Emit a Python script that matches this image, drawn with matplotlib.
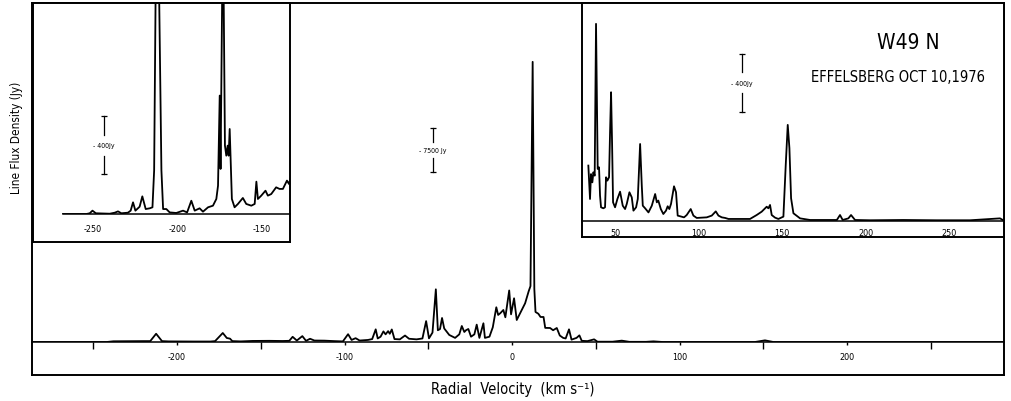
import numpy as np
import matplotlib.pyplot as plt
from matplotlib.ticker import FixedLocator

plt.rcParams['font.family'] = ['DejaVu Sans']
plt.rcParams['font.stretch'] = 'condensed'
plt.rcParams['axes.unicode_minus'] = False

# full spectrum, main panel (km/s, Jy)
vel_main = [-286, -242, -238, -220, -216, -212.5, -209, -205, -190, -180, -177.3, -172.7,
            -170.3, -168.4, -167, -162, -155, -145, -137, -133,
            -131, -128.5, -125.2, -123, -120.6, -118, -112, -106, -101, -97.9, -95.8, -93.4,
            -91, -86, -83.5, -81.4, -80.2, -78.5, -76.8, -75.5, -74, -73, -71.8, -70.2, -67,
            -63.9, -61.5, -57, -53.5, -51.3, -49.6, -47.5, -45.5, -44.3, -43, -41.8, -40.5,
            -37.5, -34, -31.5, -30, -28.5, -27.5, -26.1, -24.5, -22.5, -21.1, -19.5, -17.1,
            -16.2, -13.5, -11.5, -9.4, -8.3, -7, -5.2, -4, -1.7, -0.6, 1.2, 2.8, 4.8, 7.8,
            9.9, 11, 12.3, 13.3, 14, 15.7, 17, 18.8, 19.8, 22.7, 24.5, 26.7, 28.5, 30.5, 32,
            34, 35.5, 38.5, 40.2, 41.6, 45, 49, 51, 60, 65.5, 70, 80, 84.4, 90, 145, 151,
            156, 200, 293]
flux_main = [0, 0, 120, 150, 150, 1400, 150, 100, 80, 80, 150, 1530,
             680, 570, 150, 100, 180, 200, 170, 200,
             880, 250, 1000, 200, 550, 250, 230, 150, 100, 1330, 350, 650,
             250, 350, 500, 2150, 600, 900, 1800, 1300, 1850, 1400, 2130, 500, 450,
             1100, 550, 450, 600, 3550, 620, 1600, 8950, 2000, 2200, 4080, 2300,
             1200, 700, 1300, 2720, 1700, 2000, 2210, 900, 1300, 2950, 700, 3180,
             700, 900, 2500, 5900, 4600, 4900, 5440, 4200, 8760, 4700, 7430, 3740, 4880, 6580,
             8600, 9500, 47600, 9000, 5100, 4800, 4250, 4250, 2400, 2380, 2000, 2380, 1100, 700, 600,
             2150, 400, 700, 1130, 200, 150, 450, 50, 50, 230, 30, 30, 110, 0, 0, 280,
             0, 0, 0]

# left inset, blue-shifted wing
vel_low = [-267.7, -253.9, -251.9, -250.3, -248.3, -240.1, -237.1, -235.2, -233.2, -229.3,
           -227.7, -226.3, -224.9, -222.4, -220.8, -218.8, -216.4, -214.8, -213.8, -212.9,
           -210.9, -209.5, -208.5, -206.6, -204.6, -200.7, -196.7, -194.3, -191.8, -189.8,
           -186.9, -184.9, -181.9, -179.0, -177.0, -176.0, -175.0, -174.5, -173.5, -172.7,
           -171.9, -171.1, -170.3, -169.7, -169.1, -168.6, -167.8, -166.2, -164.2, -161.3,
           -159.3, -156.3, -154.3, -153.3, -152.4, -150.4, -147.9, -146.5, -144.5, -141.6,
           -139.6, -137.6, -135.2, -134.0, -133.2]
flux_low = [0, 0, 5, 23, 5, 2, 9, 18, 5, 9,
            23, 80, 23, 50, 121, 34, 39, 46, 300, 1550,
            1550, 300, 34, 34, 11, 7, 23, 11, 91, 23,
            39, 16, 46, 57, 103, 194, 812, 309, 1550, 1550,
            469, 400, 469, 400, 583, 400, 103, 46, 69, 110,
            69, 57, 69, 222, 103, 126, 160, 126, 137, 183,
            172, 172, 229, 206, 240]

# right inset, red-shifted wing
vel_high = [34.0, 35.0, 35.6, 36.4, 37.0, 37.8, 38.6, 39.6, 40.4, 41.0, 41.6, 43.0, 44.0,
            44.6, 45.4, 46.4, 47.0, 47.6, 48.2, 48.8, 50.0, 51.4, 53.0, 54.6, 56.0, 57.0,
            58.6, 60.0, 61.0, 62.6, 63.6, 65.0, 66.0, 66.6, 68.0, 70.0, 72.0, 74.0, 75.0,
            75.9, 77.4, 78.9, 80.5, 81.5, 82.5, 83.5, 85.3, 86.5, 87.5, 91.3, 92.9, 95.3,
            96.9, 98.9, 104.9, 107.9, 110.3, 111.9, 113.9, 115.9, 117.9, 122.9, 130.8, 134.8,
            137.8, 140.8, 141.8, 142.8, 143.8, 145.8, 147.8, 150.8, 152.2, 153.4, 154.4,
            155.4, 156.8, 160.8, 166.8, 182.8, 184.7, 186.3, 189.7, 191.3, 193.7, 202.7,
            222.6, 242.6, 262.6, 280.5, 282.5]
flux_high = [380, 151, 322, 265, 334, 311, 1352, 357, 368, 174, 94, 87, 94,
             300, 277, 300, 608, 883, 540, 128, 94, 151, 201, 105, 82, 117,
             197, 162, 71, 94, 151, 528, 242, 105, 87, 59, 105, 185, 128,
             140, 82, 48, 71, 101, 82, 117, 238, 197, 37, 25, 41, 82,
             37, 21, 25, 37, 66, 37, 25, 21, 14, 14, 14, 41,
             64, 98, 87, 110, 41, 23, 14, 30, 384, 659, 500,
             156, 53, 18, 7, 7, 41, 7, 18, 41, 7, 5,
             7, 5, 5, 18, 5]

main_ticks = [-200, -100, 0, 100, 200]
main_minor = [-250, -150, -50, 50, 150, 250]
low_ticks = [-250, -200, -150]
high_ticks = [50, 100, 150, 200, 250]

W, H = 1011, 402
fig = plt.figure(figsize=(W / 100, H / 100), dpi=100)


def box(l, r, t, b):
    # pixel edges -> figure rect
    return [l / W, 1 - b / H, (r - l) / W, (b - t) / H]


def frame(rect, z):
    a = fig.add_axes(rect, zorder=z)
    a.set_xticks([])
    a.set_yticks([])
    for s in a.spines.values():
        s.set_linewidth(1.4)
    return a


def data_axes(rect, z):
    a = fig.add_axes(rect, zorder=z)
    a.patch.set_visible(False)
    for s in ['top', 'left', 'right']:
        a.spines[s].set_visible(False)
    a.spines['bottom'].set_linewidth(1.1)
    a.set_yticks([])
    return a


def scale_bar(a, v, c, length, label):
    half = length / 2
    gap = 0.18 * length
    a.plot([v, v], [c + gap, c + half], color='k', lw=0.9)
    a.plot([v, v], [c - gap, c - half], color='k', lw=0.9)
    a.plot([v, v], [c + half, c - half], ls='none', marker='_', ms=4, mew=0.9, color='k')
    a.text(v, c, label, ha='center', va='center', fontsize=5)


# main panel
frame(box(32, 1004, 4, 376), 0)
ax = data_axes(box(32, 1004, 4, 343), 1)
ax.plot(vel_main, flux_main, color='k', lw=1.3)
ax.set_xlim(-286.6, 293.7)
ax.set_ylim(0, 57600)
ax.xaxis.set_major_locator(FixedLocator(main_ticks))
ax.xaxis.set_minor_locator(FixedLocator(main_minor))
ax.tick_params(axis='x', which='major', length=2, width=1, pad=5, labelsize=6.5)
ax.tick_params(axis='x', which='minor', length=5, width=1)
scale_bar(ax, -47.2, 32600, 7500, '- 7500 Jy')

# left inset
frame(box(33, 290, 4, 243), 3).set_facecolor('white')
axl = data_axes(box(33, 290, 4, 215), 4)
axl.plot(vel_low, flux_low, color='k', lw=1.3)
axl.set_xlim(-285.5, -133.4)
axl.set_ylim(0, 1447)
axl.spines['bottom'].set_bounds(vel_low[0], -133.4)
axl.set_xticks(low_ticks)
axl.tick_params(axis='x', length=0, pad=7, labelsize=6.5)
scale_bar(axl, -243.5, 473, 400, '- 400Jy')

# right inset
frame(box(582, 1004, 4, 238), 3).set_facecolor('white')
axr = data_axes(box(582, 1004, 4, 222), 4)
axr.plot(vel_high, flux_high, color='k', lw=1.3)
axr.set_xlim(30.2, 282.9)
axr.set_ylim(0, 1495)
axr.set_xticks(high_ticks)
axr.tick_params(axis='x', length=0, pad=5, labelsize=6.5)
scale_bar(axr, 126, 947, 400, '- 400Jy')

fig.text(908 / W, 1 - 43 / H, 'W49 N', ha='center', va='center', fontsize=15, zorder=10)
fig.text(898 / W, 1 - 77 / H, 'EFFELSBERG OCT 10,1976', ha='center', va='center',
         fontsize=10.5, zorder=10)
fig.text(17 / W, 1 - 138 / H, 'Line Flux Density (Jy)', rotation=90, ha='center',
         va='center', fontsize=8.5, zorder=10)
fig.text(513 / W, 1 - 390 / H, 'Radial  Velocity  (km s⁻¹)', ha='center', va='center',
         fontsize=10.5, zorder=10)

fig.savefig('out.png', dpi=100, facecolor='white')
